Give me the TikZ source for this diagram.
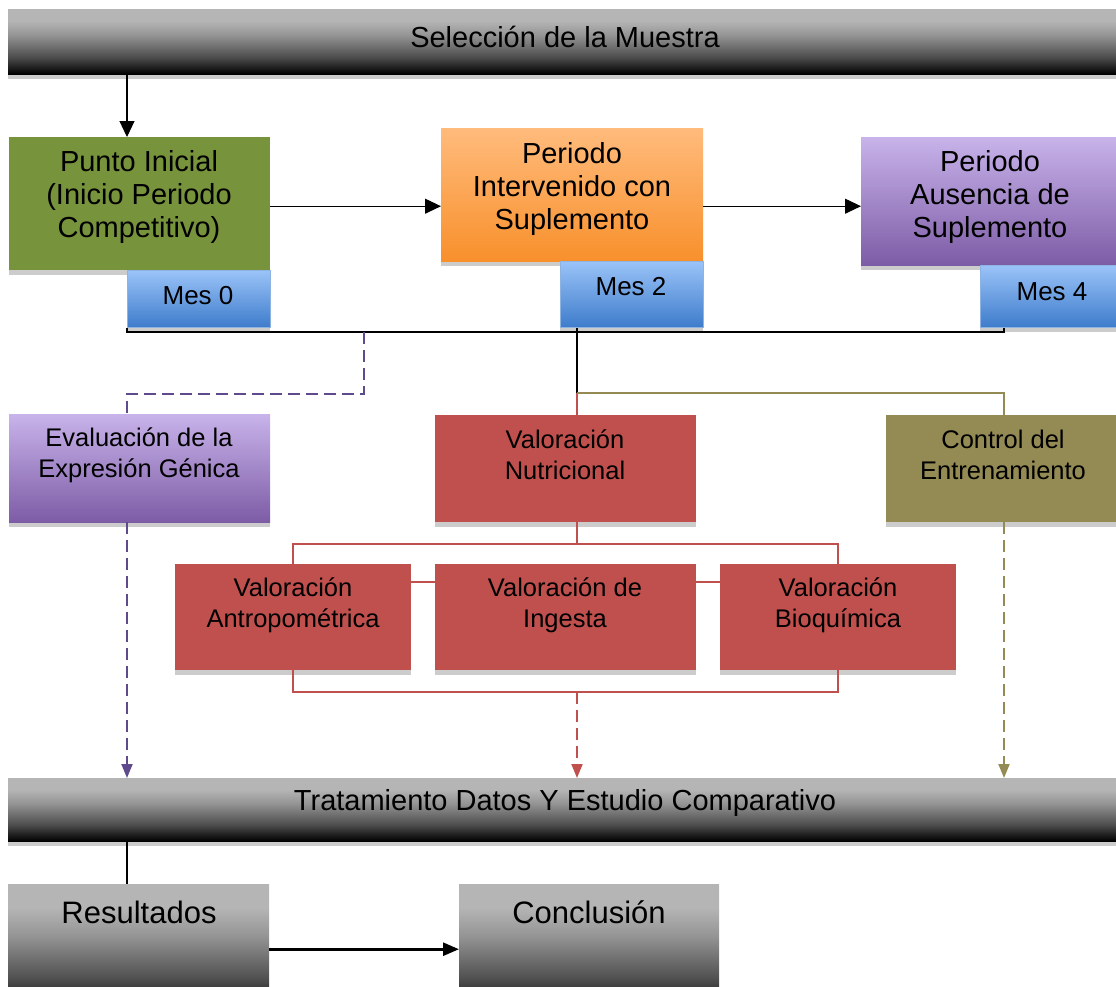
\documentclass[tikz,border=0pt]{standalone}
\usepackage{fontspec}
\setmainfont{Liberation Sans}
\usetikzlibrary{arrows.meta}
\definecolor{pgreen}{HTML}{77933C}
\definecolor{orTop}{HTML}{FFBB7C}
\definecolor{orBot}{HTML}{F8902C}
\definecolor{puTop}{HTML}{C8B3EA}
\definecolor{puBot}{HTML}{7D5CA6}
\definecolor{blTop}{HTML}{9AC3F8}
\definecolor{blBot}{HTML}{3E7CCB}
\definecolor{blEdge}{HTML}{8DB3E2}
\definecolor{pred}{HTML}{C0504D}
\definecolor{polive}{HTML}{948A54}
\definecolor{pviol}{HTML}{5F4B8B}
\definecolor{barA}{gray}{0}
\definecolor{barB}{gray}{0.30}
\definecolor{barC}{gray}{0.58}
\definecolor{barD}{gray}{0.71}
\pgfdeclareverticalshading{barshade}{100bp}{color(0bp)=(barA); color(25bp)=(barA); color(38bp)=(barB); color(55bp)=(barC); color(66bp)=(barD); color(100bp)=(barD)}
\tikzset{
  shadowbox/.style={preaction={fill=black!20, transform canvas={yshift=-5pt}}},
  bx/.style={shadowbox, rectangle, inner sep=0pt, anchor=north west, draw=none},
  graybar/.style={bx, shading=barshade},
  mesbox/.style={bx, top color=blTop, bottom color=blBot, draw=blEdge, line width=0.8pt},
  txtL/.style={align=center, inner sep=0pt, font=\fontsize{29}{33}\selectfont},
  txtM/.style={align=center, inner sep=0pt, font=\fontsize{25.5}{31}\selectfont},
  txtS/.style={align=center, inner sep=0pt, font=\fontsize{26}{30}\selectfont},
  txtR/.style={align=center, inner sep=0pt, font=\fontsize{31}{35}\selectfont},
  thinarrow/.style={line width=1.1pt, -{Triangle[length=16pt,width=15pt]}},
  thickarrow/.style={line width=2.6pt, -{Triangle[length=16pt,width=13pt]}},
  vdash/.style={line width=2pt, dash pattern=on 12pt off 6pt},
  tipsmall/.style={-{Triangle[length=14pt,width=11pt]}}
}
\begin{document}
\begin{tikzpicture}[x=1pt,y=-1pt]
\useasboundingbox (0,0) rectangle (1116,986);
\clip (0,0) rectangle (1116,986);
% ---- boxes ----
\node[graybar, minimum width=1108pt, minimum height=65pt] (sel) at (8,9) {};
\node[txtL] (sel-t) at (565,37) {Selección de la Muestra};

\node[bx, fill=pgreen, minimum width=261pt, minimum height=133pt] (pi) at (9,137) {};
\node[bx, top color=orTop, bottom color=orBot, minimum width=262pt, minimum height=133pt] (piv) at (441,128) {};
\node[bx, top color=puTop, bottom color=puBot, minimum width=255pt, minimum height=128pt] (pas) at (861,137) {};
\node[txtL] (pi-t) at (139,197) {Punto Inicial\\(Inicio Periodo\\Competitivo)};
\node[txtL] (piv-t) at (572,189) {Periodo\\Intervenido con\\Suplemento};
\node[txtL] (pas-t) at (990,197) {Periodo\\Ausencia de\\Suplemento};

\node[mesbox, minimum width=143pt, minimum height=57pt] (m0) at (127,270) {};
\node[mesbox, minimum width=143pt, minimum height=66pt] (m2) at (560,261) {};
\node[mesbox, minimum width=136pt, minimum height=62pt] (m4) at (980,265) {};
\node[txtS] (m0-t) at (198,296) {Mes 0};
\node[txtS] (m2-t) at (631,287) {Mes 2};
\node[txtS] (m4-t) at (1052,292) {Mes 4};

\node[bx, top color=puTop, bottom color=puBot, minimum width=261pt, minimum height=108pt] (eva) at (9,414) {};
\node[bx, fill=pred, minimum width=261pt, minimum height=107pt] (vn) at (435,415) {};
\node[bx, fill=polive, minimum width=230pt, minimum height=107pt] (ce) at (886,415) {};
\node[txtM] (eva-t) at (139,455) {Evaluación de la\\Expresión Génica};
\node[txtM] (vn-t) at (565,455) {Valoración\\Nutricional};
\node[txtM] (ce-t) at (1003,455) {Control del\\Entrenamiento};

\node[bx, fill=pred, minimum width=236pt, minimum height=106pt] (va) at (175,564) {};
\node[bx, fill=pred, minimum width=261pt, minimum height=106pt] (vi) at (435,564) {};
\node[bx, fill=pred, minimum width=236pt, minimum height=106pt] (vb) at (720,564) {};
\node[txtM] (va-t) at (293,605) {Valoración\\Antropométrica};
\node[txtM] (vi-t) at (565,605) {Valoración de\\Ingesta};
\node[txtM] (vb-t) at (838,605) {Valoración\\Bioquímica};

\node[graybar, minimum width=1108pt, minimum height=63pt] (tr) at (8,778) {};
\node[txtL] (tr-t) at (565,803) {Tratamiento Datos Y Estudio Comparativo};

\node[graybar, minimum width=261pt, minimum height=130pt] (res) at (8,884) {};
\node[graybar, minimum width=260pt, minimum height=130pt] (con) at (459,884) {};
\node[txtR] (res-t) at (139,912) {Resultados};
\node[txtR] (con-t) at (589,912) {Conclusión};

% ---- helper coordinates ----
\coordinate (bkR) at (1004,332);
\coordinate (j1) at (577,393);
\coordinate (pd) at (364,332);
\coordinate (pd2) at (364,394);
\coordinate (rt) at (577,544);
\coordinate (rb) at (577,692);

% ---- connectors ----
\draw[thinarrow] (sel.south -| m0.west) -- (pi.north -| m0.west);
\draw[thinarrow] ([yshift=-2.5pt]pi.east) -- ([yshift=-2.5pt]pi.east -| piv.west);
\draw[thinarrow] ([yshift=-2.5pt]pi.east -| piv.east) -- ([yshift=-2.5pt]pi.east -| pas.west);

\draw[line width=2.8pt] (m0.south west) |- (bkR) -- (bkR |- m4.south);
\draw[line width=1.2pt] (m2.south -| j1) -- (j1);
\draw[pred, line width=2.2pt] (j1) -- (vn.north -| j1);
\draw[polive, line width=2.2pt] (j1) -| (ce.north -| bkR);
\draw[pviol, vdash] (pd) -- (pd2) -| (eva.north -| m0.west);

\draw[pred, line width=2.2pt] (vn.south -| rt) -- (rt);
\draw[pred, line width=2.2pt] (va.north) |- (vb.north |- rt) -- (vb.north);
\draw[pred, line width=2.2pt] ([yshift=35pt]va.east) -- ([yshift=35pt]vi.west);
\draw[pred, line width=2.2pt] ([yshift=35pt]vi.east) -- ([yshift=35pt]vb.west);
\draw[pred, line width=2.2pt] (va.south) |- (vb.south |- rb) -- (vb.south);

\draw[pviol, vdash, tipsmall] (eva.south -| m0.west) -- (tr.north -| m0.west);
\draw[pred, vdash, tipsmall] (rb) -- (tr.north -| rb);
\draw[polive, vdash, tipsmall] (ce.south -| bkR) -- (tr.north -| bkR);

\draw[line width=2pt] (tr.south -| m0.west) -- (res.north -| m0.west);
\draw[thickarrow] (res.east) -- (con.west);
\end{tikzpicture}
\end{document}
